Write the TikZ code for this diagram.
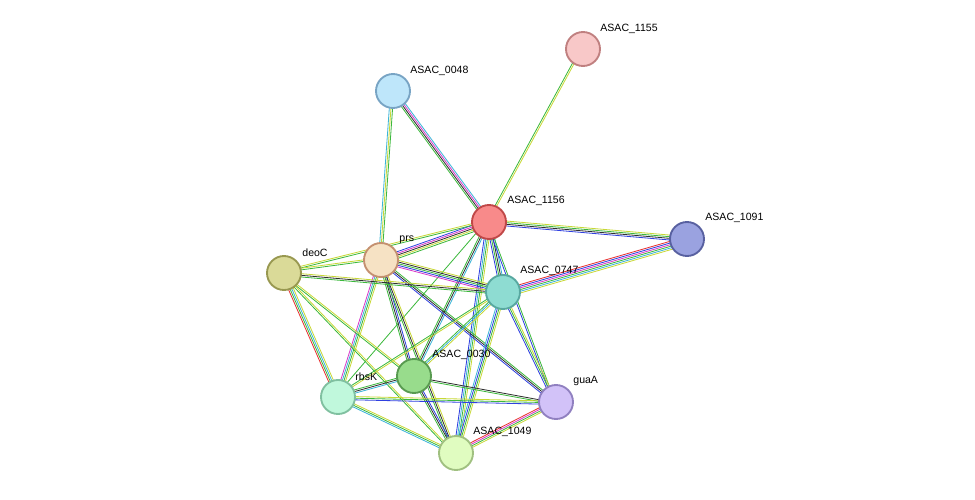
\documentclass[tikz,border=0pt]{standalone}
\usepackage{fontspec}
\setmainfont{Liberation Sans}
\usetikzlibrary{calc,backgrounds}
\definecolor{cgreen}{HTML}{3CB83C}
\definecolor{cyel}{HTML}{C8D836}
\definecolor{ccyan}{HTML}{3CB4D8}
\definecolor{cmag}{HTML}{D838C8}
\definecolor{cblue}{HTML}{3040E0}
\definecolor{cred}{HTML}{E83030}
\definecolor{cblack}{HTML}{303030}
% protein fills and borders
\definecolor{f1155}{HTML}{F8C8C8}\definecolor{d1155}{HTML}{C08080}
\definecolor{f0048}{HTML}{BEE6FA}\definecolor{d0048}{HTML}{78A4C4}
\definecolor{f1156}{HTML}{F88A8A}\definecolor{d1156}{HTML}{C04848}
\definecolor{f1091}{HTML}{9AA2E0}\definecolor{d1091}{HTML}{5860A0}
\definecolor{fprs}{HTML}{F6E2C4}\definecolor{dprs}{HTML}{C49070}
\definecolor{fdeoC}{HTML}{DADA98}\definecolor{ddeoC}{HTML}{989850}
\definecolor{f0747}{HTML}{8EDCD2}\definecolor{d0747}{HTML}{58A8A0}
\definecolor{f0030}{HTML}{98DC8C}\definecolor{d0030}{HTML}{589A50}
\definecolor{frbsK}{HTML}{C0F8DC}\definecolor{drbsK}{HTML}{80C0A0}
\definecolor{fguaA}{HTML}{D2C2F8}\definecolor{dguaA}{HTML}{9080C0}
\definecolor{f1049}{HTML}{E0FCC0}\definecolor{d1049}{HTML}{A0C080}
\newcommand\link[3]{%
  \foreach \c [count=\i] in {#3} {%
    \draw[\c, line width=0.7pt]
      ($(#1)!{(\i-2.5)*1.4pt}!90:(#2)$) -- ($(#2)!{(\i-2.5)*1.4pt}!-90:(#1)$);
  }}
\begin{document}
\begin{tikzpicture}
    [x=0.03cm, y=-0.03cm,
      prot/.style={circle, line width=1.6pt, inner sep=0pt, minimum size=1.02cm, fill=f#1, draw=d#1},
      lab/.style={font=\fontsize{9}{10}\selectfont, anchor=south west, inner sep=1pt}]
    \useasboundingbox (0,0) rectangle (975,499);
    % proteins
    \node[prot=1155] (a1155) at (583,49) {};
    \node[prot=0048] (a0048) at (393,91) {};
    \node[prot=1156] (a1156) at (489,222) {};
    \node[prot=1091] (a1091) at (687,239) {};
    \node[prot=prs] (prs) at (381,260) {};
    \node[prot=deoC] (deoC) at (284,273) {};
    \node[prot=0747] (a0747) at (503,292) {};
    \node[prot=0030] (a0030) at (414,376) {};
    \node[prot=rbsK] (rbsK) at (338,397) {};
    \node[prot=guaA] (guaA) at (556,402) {};
    \node[prot=1049] (a1049) at (456,453) {};
    % labels
    \node[lab] at (599,35) {ASAC\_1155};
    \node[lab] at (409,77) {ASAC\_0048};
    \node[lab] at (506,207) {ASAC\_1156};
    \node[lab] at (704,224) {ASAC\_1091};
    \node[lab] at (398,245) {prs};
    \node[lab] at (301,258) {deoC};
    \node[lab] at (519,277) {ASAC\_0747};
    \node[lab] at (431,361) {ASAC\_0030};
    \node[lab] at (354,382) {rbsK};
    \node[lab] at (572,387) {guaA};
    \node[lab] at (472,438) {ASAC\_1049};
    % interactions
    \begin{pgfonlayer}{background}
      \link{a1155}{a1156}{cgreen,cyel}
      \link{a0048}{a1156}{cgreen,cblack,cmag,ccyan}
      \link{a0048}{prs}{ccyan,cyel,cgreen}
      \link{a1156}{a1091}{cblue,cblack,cgreen,cyel}
      \link{a1156}{prs}{cblue,cmag,cblack,cyel,cgreen}
      \link{a1156}{deoC}{cyel,cgreen}
      \link{a1156}{a0747}{cblue,cgreen,cblack,ccyan}
      \link{a1156}{a0030}{cgreen,cblack,ccyan}
      \link{a1156}{rbsK}{cgreen}
      \link{a1156}{a1049}{cblue,ccyan,cgreen,cyel}
      \link{a1156}{guaA}{cblue,cgreen}
      \link{a1091}{a0747}{cred,cblue,cmag,cgreen,ccyan,cyel}
      \link{prs}{deoC}{cyel,cgreen}
      \link{prs}{a0747}{cmag,cblue,cgreen,cblack,cyel}
      \link{prs}{a0030}{cgreen,cblack,cblue}
      \link{prs}{rbsK}{cmag,ccyan,cgreen,cyel}
      \link{prs}{a1049}{cgreen,cblack,cyel}
      \link{prs}{guaA}{cblue,cblack,cgreen}
      \link{deoC}{a0747}{cgreen,cblack,cyel}
      \link{deoC}{rbsK}{cred,cgreen,ccyan,cyel}
      \link{deoC}{a0030}{cgreen,cyel}
      \link{deoC}{a1049}{cgreen,cyel}
      \link{a0747}{a0030}{cgreen,ccyan,cyel}
      \link{a0747}{rbsK}{cgreen,cyel}
      \link{a0747}{a1049}{ccyan,cblue,cgreen,cyel}
      \link{a0747}{guaA}{cblue,cgreen,cyel}
      \link{a0030}{rbsK}{cgreen,cblack,ccyan}
      \link{a0030}{guaA}{cgreen,cblack}
      \link{a0030}{a1049}{cgreen,cblack,cblue}
      \link{rbsK}{guaA}{cblue,cgreen,cyel}
      \link{rbsK}{a1049}{ccyan,cgreen,cyel}
      \link{guaA}{a1049}{cred,cmag,cgreen,cyel}
    \end{pgfonlayer}
\end{tikzpicture}
\end{document}
